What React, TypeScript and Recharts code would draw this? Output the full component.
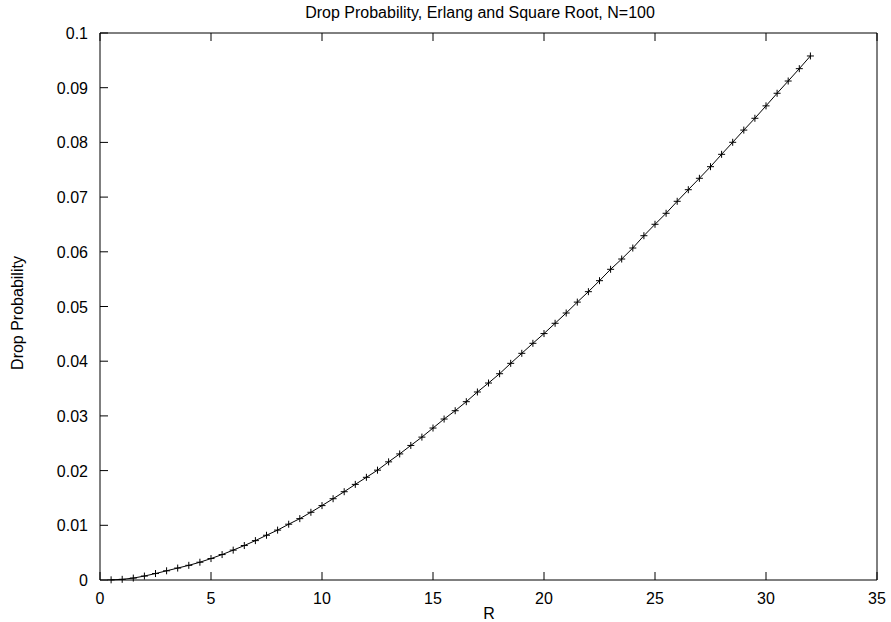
import React from "react"
import { LineChart, Line, XAxis, YAxis } from "recharts"

// R values (x) and measured drop probability (y)
const R_VALUES = [
  0.5, 1, 1.5, 2, 2.5, 3, 3.5, 4, 4.5, 5, 5.5, 6, 6.5, 7, 7.5, 8, 8.5, 9, 9.5, 10,
  10.5, 11, 11.5, 12, 12.5, 13, 13.5, 14, 14.5, 15, 15.5, 16, 16.5, 17, 17.5, 18,
  18.5, 19, 19.5, 20, 20.5, 21, 21.5, 22, 22.5, 23, 23.5, 24, 24.5, 25, 25.5, 26,
  26.5, 27, 27.5, 28, 28.5, 29, 29.5, 30, 30.5, 31, 31.5, 32,
]

const DROP_PROB = [
  0.00003, 0.00012, 0.00035, 0.00072, 0.00118, 0.00168, 0.00218, 0.00268, 0.00325,
  0.00392, 0.00465, 0.00546, 0.0063, 0.0072, 0.00818, 0.00912, 0.0102, 0.01122,
  0.01238, 0.0136, 0.01486, 0.01614, 0.01748, 0.01877, 0.02008, 0.0216, 0.02305,
  0.0246, 0.02612, 0.02778, 0.02943, 0.03095, 0.0326, 0.03437, 0.03601, 0.03771,
  0.03961, 0.04144, 0.04327, 0.04505, 0.04693, 0.04881, 0.0508, 0.05271, 0.05472,
  0.0568, 0.05868, 0.06069, 0.06294, 0.06503, 0.06704, 0.06923, 0.07135, 0.07344,
  0.07556, 0.07782, 0.08002, 0.08225, 0.08441, 0.08668, 0.08898, 0.09122, 0.09348,
  0.0958,
]

const X_TICKS = [0, 5, 10, 15, 20, 25, 30, 35]
const Y_TICKS = [0, 0.01, 0.02, 0.03, 0.04, 0.05, 0.06, 0.07, 0.08, 0.09, 0.1]

const FONT = "'Liberation Sans', Arial, Helvetica, sans-serif"
const TICK_LEN = 8

const data = R_VALUES.map((r, i) => ({ r, p: DROP_PROB[i] }))

// labels only; tick lines come from recharts (negative tickSize = inward)
const BottomLabel = (props: any) => {
  const { x, y, payload } = props
  return (
    <text x={x} y={y + 24} textAnchor="middle" fontSize={16} fontFamily={FONT} fill="#000">
      {payload.value}
    </text>
  )
}

const LeftLabel = (props: any) => {
  const { x, y, payload } = props
  return (
    <text x={x - 12} y={y + 6} textAnchor="end" fontSize={16} fontFamily={FONT} fill="#000">
      {String(payload.value)}
    </text>
  )
}

const NoLabel = () => <g />

const PlusDot = (props: any) => {
  const { cx, cy } = props
  if (cx == null || cy == null) return null
  const s = 3.5
  return (
    <path
      d={`M${cx - s},${cy}H${cx + s}M${cx},${cy - s}V${cy + s}`}
      stroke="#000"
      strokeWidth={1}
      fill="none"
    />
  )
}

export default function App() {
  const axisCommon = {
    tickSize: -TICK_LEN,
    tickMargin: TICK_LEN,
    tickLine: { stroke: "#000" },
    axisLine: { stroke: "#000" },
    interval: 0 as const,
  }

  return (
    <div
      style={{
        position: "absolute",
        left: 0,
        top: 0,
        width: 891,
        height: 622,
        background: "#fff",
        fontFamily: FONT,
      }}
    >
      <div
        style={{
          position: "absolute",
          left: 230,
          width: 500,
          top: 4,
          textAlign: "center",
          fontSize: 16,
          lineHeight: "18px",
          color: "#000",
        }}
      >
        Drop Probability, Erlang and Square Root, N=100
      </div>
      <div
        style={{
          position: "absolute",
          left: 18 - 100,
          top: 313 - 9,
          width: 200,
          textAlign: "center",
          fontSize: 16,
          lineHeight: "18px",
          transform: "rotate(-90deg)",
          color: "#000",
        }}
      >
        Drop Probability
      </div>
      <div
        style={{
          position: "absolute",
          left: 439,
          width: 100,
          top: 605,
          textAlign: "center",
          fontSize: 16,
          lineHeight: "18px",
          color: "#000",
        }}
      >
        R
      </div>
      <LineChart
        width={891}
        height={622}
        data={data}
        margin={{ top: 32, right: 13, bottom: 12, left: 0 }}
      >
        <XAxis
          xAxisId="bottom"
          dataKey="r"
          type="number"
          domain={[0, 35]}
          ticks={X_TICKS}
          allowDataOverflow
          height={30}
          tick={<BottomLabel />}
          {...axisCommon}
        />
        <XAxis
          xAxisId="top"
          orientation="top"
          dataKey="r"
          type="number"
          domain={[0, 35]}
          ticks={X_TICKS}
          height={1}
          tick={<NoLabel />}
          {...axisCommon}
        />
        <YAxis
          yAxisId="left"
          type="number"
          domain={[0, 0.1]}
          ticks={Y_TICKS}
          width={100}
          tick={<LeftLabel />}
          {...axisCommon}
        />
        <YAxis
          yAxisId="right"
          orientation="right"
          type="number"
          domain={[0, 0.1]}
          ticks={Y_TICKS}
          width={1}
          tick={<NoLabel />}
          {...axisCommon}
        />
        <Line
          xAxisId="bottom"
          yAxisId="left"
          type="linear"
          dataKey="p"
          stroke="#000"
          strokeWidth={1}
          dot={<PlusDot />}
          activeDot={false}
          isAnimationActive={false}
        />
      </LineChart>
    </div>
  )
}
